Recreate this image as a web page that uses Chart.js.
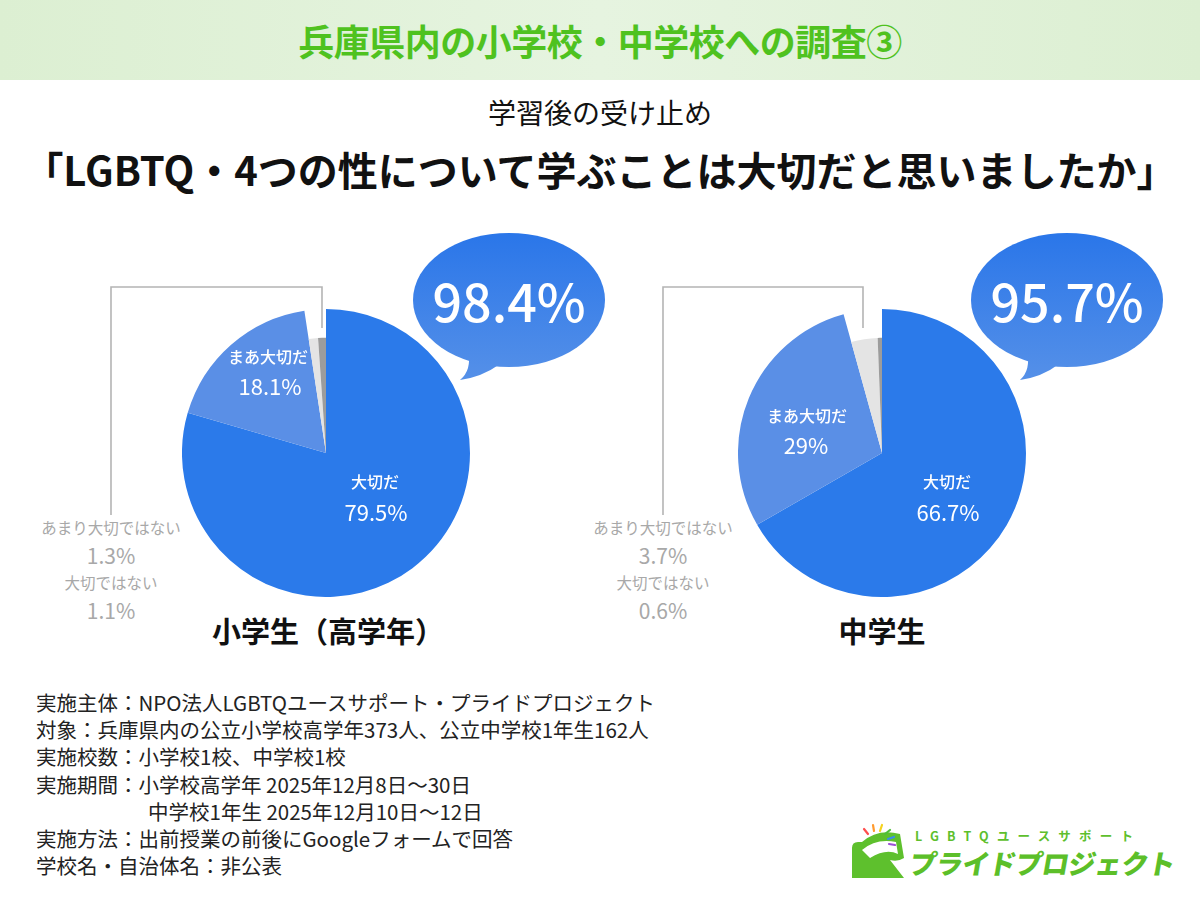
<!DOCTYPE html>
<html lang="ja">
<head>
<meta charset="utf-8">
<script src="https://cdn.jsdelivr.net/npm/chart.js@4.4.1/dist/chart.umd.min.js"></script>
<style>
  html, body { margin:0; padding:0; }
  body { width:1200px; height:900px; position:relative; background:#ffffff; overflow:hidden;
         font-family:"Noto Sans CJK JP","Noto Sans",sans-serif; color:#111; }
  .abs { position:absolute; }
  #header { left:0; top:0; width:1200px; height:80px;
            background:linear-gradient(to right,#dcefd2 0%,#e6f4e0 50%,#dcefd2 100%); }
  #header div { width:1200px; height:80px; line-height:80px; text-align:center;
                font-size:36px; font-weight:700; color:#4fc21f; letter-spacing:-0.5px; }
  #subtitle { left:0; width:1200px; top:94px; height:36px; line-height:36px; text-align:center;
              font-size:28px; font-weight:400; color:#111; }
  #title { left:0; width:1200px; top:144px; height:50px; line-height:50px; text-align:center;
           font-size:40px; font-weight:700; color:#111; }
  .lbl { position:absolute; transform:translate(-50%,-50%); white-space:nowrap; text-align:center; line-height:1; }
  .inJ { color:#fff; font-size:16px; font-weight:500; }
  .inN { color:#fff; font-size:22px; font-weight:400; }
  .outJ { color:#a8a8a8; font-size:15.5px; font-weight:400; }
  .outN { color:#a8a8a8; font-size:21px; font-weight:400; }
  .grp { color:#111; font-size:29px; font-weight:700; }
  .bub { color:#fff; font-size:52px; font-weight:500; }
  #notes { left:36px; top:689px; font-size:20.5px; line-height:27.2px; color:#222; white-space:nowrap; }
  #notes div { height:27.2px; }
  #logo1 { left:915px; top:826px; font-size:12.5px; letter-spacing:8.2px; color:#5ebf2d; font-weight:700; white-space:nowrap; }
  #logo2 { left:910px; top:843px; font-size:27px; font-weight:900; color:#5cbf29; white-space:nowrap;
           transform:skewX(-10deg); letter-spacing:-0.5px; }
</style>
</head>
<body>
<script>
// ---------------- data ----------------
const categories = ['大切だ', 'まあ大切だ', 'あまり大切ではない', '大切ではない'];
const elementaryValues = [79.5, 18.1, 1.3, 1.1];
const juniorValues = [66.7, 29, 3.7, 0.6];
const groupNames = ['小学生（高学年）', '中学生'];
const bubbleValues = [98.4, 95.7];
const headerTitle = '兵庫県内の小学校・中学校への調査③';
const subTitle = '学習後の受け止め';
const mainTitle = '「LGBTQ・4つの性について学ぶことは大切だと思いましたか」';
const notesLines = [
  '実施主体：NPO法人LGBTQユースサポート・プライドプロジェクト',
  '対象：兵庫県内の公立小学校高学年373人、公立中学校1年生162人',
  '実施校数：小学校1校、中学校1校',
  '実施期間：小学校高学年 2025年12月8日〜30日',
  '中学校1年生 2025年12月10日〜12日',
  '実施方法：出前授業の前後にGoogleフォームで回答',
  '学校名・自治体名：非公表'
];
const logoSub = 'LGBTQユースサポート';
const logoMain = 'プライドプロジェクト';
</script>

<div id="header" class="abs"><div id="headerText"></div></div>
<div id="subtitle" class="abs"></div>
<div id="title" class="abs"></div>

<svg class="abs" style="left:0;top:0" width="1200" height="900" id="deco">
  <defs>
    <linearGradient id="bg1" gradientUnits="userSpaceOnUse" x1="0" y1="233" x2="0" y2="380">
      <stop offset="0" stop-color="#2a76e9"/>
      <stop offset="1" stop-color="#5590e8"/>
    </linearGradient>
  </defs>
  <polyline points="111,515 111,287 322,287 322,328" fill="none" stroke="#b4b4b4" stroke-width="1.6"/>
  <polyline points="663,515 663,287 863,287 863,328" fill="none" stroke="#b4b4b4" stroke-width="1.6"/>
  <ellipse cx="509" cy="300" rx="96" ry="67" fill="url(#bg1)"/>
  <path d="M468,352 Q472,370 460,380 Q482,377 500,364 Z" fill="url(#bg1)"/>
  <ellipse cx="1067" cy="300" rx="96" ry="67" fill="url(#bg1)"/>
  <path d="M1027,352 Q1031,370 1020,380 Q1042,377 1059,364 Z" fill="url(#bg1)"/>
  <g>
    <path d="M852,878 L852,848 Q852,842 858,842 L862,842 Q878,828 900,834 L904,858 Q898,862 890,860 L904,878 Z" fill="#5ec02d"/>
    <path d="M862,850 Q876,838 896,842 L898,854 Q886,848 870,858 Z" fill="#ffffff"/>
    <line x1="868" y1="834" x2="864" y2="829" stroke="#ff4d4d" stroke-width="2.2" stroke-linecap="round"/>
    <line x1="874" y1="831" x2="873" y2="825" stroke="#ff9a2e" stroke-width="2.2" stroke-linecap="round"/>
    <line x1="880" y1="831" x2="882" y2="825" stroke="#f5d31f" stroke-width="2.2" stroke-linecap="round"/>
    <line x1="885" y1="834" x2="890" y2="830" stroke="#4fbf3a" stroke-width="2.2" stroke-linecap="round"/>
    <line x1="888" y1="839" x2="894" y2="837" stroke="#3a8ee8" stroke-width="2.2" stroke-linecap="round"/>
    <line x1="889" y1="844" x2="895" y2="845" stroke="#9b4fd6" stroke-width="2.2" stroke-linecap="round"/>
  </g>
</svg>

<div class="abs" style="left:182px;top:309px;width:288px;height:288px"><canvas id="c1" width="288" height="288"></canvas></div>
<div class="abs" style="left:738px;top:309px;width:288px;height:288px"><canvas id="c2" width="288" height="288"></canvas></div>

<div id="labels"></div>
<div id="notes" class="abs"></div>
<div id="logo1" class="abs"></div>
<div id="logo2" class="abs"></div>

<script>
document.getElementById('headerText').textContent = headerTitle;
document.getElementById('subtitle').textContent = subTitle;
document.getElementById('title').textContent = mainTitle;
const notesEl = document.getElementById('notes');
notesLines.forEach((t, i) => {
  const d = document.createElement('div');
  d.textContent = t;
  if (i === 4) d.style.paddingLeft = '112px';
  notesEl.appendChild(d);
});
document.getElementById('logo1').textContent = logoSub;
document.getElementById('logo2').textContent = logoMain;

const fmt = v => v + '%';

const layouts = [
  { inside: [[375, 481, 376, 511], [268, 356, 270, 385]], outsideX: 111, group: [328, 630], bubble: [509, 300] },
  { inside: [[947, 481, 948, 511], [807, 415, 806, 444]], outsideX: 663, group: [882, 630], bubble: [1067, 300] }
];
const datasetsValues = [elementaryValues, juniorValues];
const labelsHost = document.getElementById('labels');
function addLabel(cls, x, y, text) {
  const d = document.createElement('div');
  d.className = 'lbl ' + cls;
  d.style.left = x + 'px';
  d.style.top = y + 'px';
  d.textContent = text;
  labelsHost.appendChild(d);
}
layouts.forEach((L, gi) => {
  const vals = datasetsValues[gi];
  for (let k = 0; k < 2; k++) {
    const [jx, jy, nx, ny] = L.inside[k];
    addLabel('inJ', jx, jy, categories[k]);
    addLabel('inN', nx, ny, fmt(vals[k]));
  }
  addLabel('outJ', L.outsideX, 528, categories[2]);
  addLabel('outN', L.outsideX, 555, fmt(vals[2]));
  addLabel('outJ', L.outsideX, 583, categories[3]);
  addLabel('outN', L.outsideX, 610, fmt(vals[3]));
  addLabel('grp', L.group[0], L.group[1], groupNames[gi]);
  addLabel('bub', L.bubble[0], L.bubble[1], fmt(bubbleValues[gi]));
});

const shrinkSmall = {
  id: 'shrinkSmall',
  afterDatasetsUpdate(chart) {
    const meta = chart.getDatasetMeta(0);
    const R = meta.data[0].outerRadius;
    meta.data.forEach((el, i) => { if (i >= 2) el.outerRadius = R * 0.8; });
  }
};

function makePie(id, values) {
  return new Chart(document.getElementById(id), {
    type: 'pie',
    data: {
      labels: categories,
      datasets: [{
        data: values,
        backgroundColor: ['#2b7aea', '#5a8fe6', '#e4e4e4', '#9c9c9c'],
        borderWidth: 0
      }]
    },
    options: {
      responsive: false,
      animation: false,
      events: [],
      layout: { padding: 0 },
      plugins: { legend: { display: false }, tooltip: { enabled: false } }
    },
    plugins: [shrinkSmall]
  });
}
makePie('c1', elementaryValues);
makePie('c2', juniorValues);
</script>
</body>
</html>
